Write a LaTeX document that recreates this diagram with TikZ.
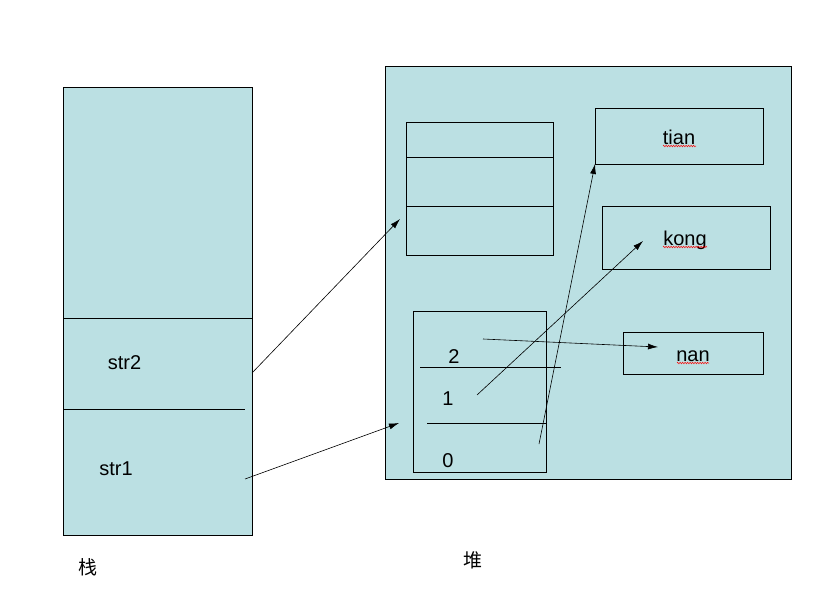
\documentclass[tikz,border=0pt]{standalone}
\usepackage{fontspec}
\setmainfont{Liberation Sans}
\newfontfamily\cjk{Noto Sans CJK SC}
\usetikzlibrary{arrows.meta,decorations.pathmorphing}
\definecolor{cellblue}{RGB}{187,224,227}
\begin{document}
\begin{tikzpicture}[x=1pt,y=-1pt,
  box/.style={draw, fill=cellblue, line width=1pt, inner sep=0pt, anchor=north west},
  plain/.style={draw, line width=1pt, inner sep=0pt, anchor=north west},
  divider/.style={line width=1pt},
  ptr/.style={-{Latex[length=10pt,width=6pt]}, line width=0.6pt},
  lbl/.style={font=\fontsize{20}{24}\selectfont, inner sep=0pt},
  cjklbl/.style={font=\cjk\fontsize{19}{22}\selectfont, inner sep=0pt},
  squig/.style={red, line width=0.5pt, decorate, decoration={zigzag, segment length=2.5pt, amplitude=0.8pt}}]
\useasboundingbox (0,0) rectangle (825,613);
\fill[white] (0,0) rectangle (825,613);
% stack
\node[box, minimum width=189pt, minimum height=448pt] (stack) at (63,87) {};
\draw[divider] (63,318) -- (252,318);
\draw[divider] (63,409) -- (245,409);
\node[lbl, anchor=base] (s2) at (124.5,369) {str2};
\node[lbl, anchor=base] (s1) at (116,475) {str1};
\node[cjklbl] (zhan) at (88,567) {栈};
% heap
\node[box, minimum width=406pt, minimum height=413pt] (heap) at (385,66) {};
\node[cjklbl] (dui) at (473,560) {堆};
% array of three references
\node[plain, minimum width=147pt, minimum height=133pt] (arr) at (406,122) {};
\draw[divider] (406,157) -- (553,157);
\draw[divider] (406,206) -- (553,206);
% strings
\node[plain, minimum width=168pt, minimum height=56pt] (tianbox) at (595,108) {};
\node[lbl, anchor=base] (tian) at (679,144) {tian};
\node[plain, minimum width=168pt, minimum height=63pt] (kongbox) at (602,206) {};
\node[lbl, anchor=base] (kong) at (685,245) {kong};
\node[plain, minimum width=140pt, minimum height=42pt] (nanbox) at (623,332) {};
\node[lbl, anchor=base] (nan) at (693,361) {nan};
\draw[squig] (663,146) -- (696,146);
\draw[squig] (663,247) -- (707,247);
\draw[squig] (677,363) -- (709,363);
% char array
\node[plain, minimum width=133pt, minimum height=161pt] (chars) at (413,311) {};
\draw[divider] (420,367) -- (561,367);
\draw[divider] (427,423) -- (547,423);
\node[lbl, anchor=base] (d2) at (454,363) {2};
\node[lbl, anchor=base] (d1) at (448,405) {1};
\node[lbl, anchor=base] (d0) at (448,467) {0};
% pointer coordinates
\coordinate (p2s) at (252,373);
\coordinate (p2e) at (400,219);
\coordinate (p1s) at (245,479);
\coordinate (p1e) at (399,423);
\coordinate (c2s) at (483,339);
\coordinate (c2e) at (658,347);
\coordinate (c1s) at (477,395);
\coordinate (c1e) at (643,241);
\coordinate (c0s) at (539,444);
\coordinate (c0e) at (595,164);
\draw[ptr] (p2s) -- (p2e);
\draw[ptr] (p1s) -- (p1e);
\draw[ptr] (c2s) -- (c2e);
\draw[ptr] (c1s) -- (c1e);
\draw[ptr] (c0s) -- (c0e);
\end{tikzpicture}
\end{document}
